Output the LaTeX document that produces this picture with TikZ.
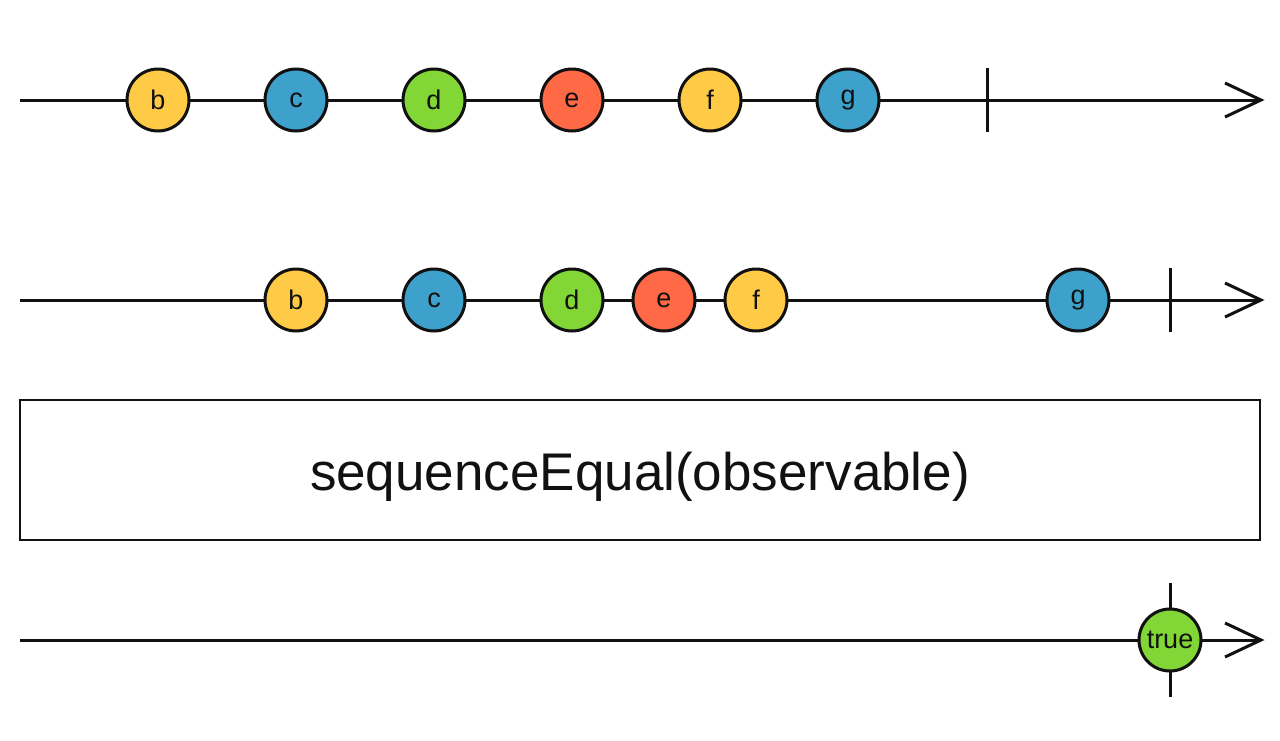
\documentclass[tikz,border=0pt]{standalone}
\usepackage{fontspec}
\setmainfont{Liberation Sans}
\definecolor{myyellow}{RGB}{255,203,70}
\definecolor{myblue}{RGB}{62,161,203}
\definecolor{mygreen}{RGB}{130,215,54}
\definecolor{myorange}{RGB}{255,105,70}
\definecolor{ink}{RGB}{17,17,17}
\begin{document}
\begin{tikzpicture}[x=1pt,y=-1pt,
  timeline/.style={draw=ink,line width=3pt},
  marble/.style={circle,draw=ink,line width=3pt,minimum size=62pt,inner sep=0pt,font=\fontsize{27}{27}\selectfont,text=ink},
  tickmark/.style={draw=ink,line width=3pt},
  opbox/.style={draw=ink,line width=2.5pt,minimum width=1240pt,minimum height=140pt,inner sep=0pt},
  optext/.style={font=\fontsize{53}{53}\selectfont,text=ink}]
\useasboundingbox (0,0) rectangle (1280,740);
% row 1
\coordinate (s1) at (20,100);
\coordinate (e1) at (1261,100);
\draw[timeline] (s1) -- (e1);
\draw[timeline,line join=miter] (e1) ++(-36,-17) -- (e1) -- ++(-36,17);
\coordinate (t1a) at (987,68);
\coordinate (t1b) at (987,132);
\draw[tickmark] (t1a) -- (t1b);
\node[marble,fill=myyellow] (a1) at (158,100) {b};
\node[marble,fill=myblue] (a2) at (296,100) {c};
\node[marble,fill=mygreen] (a3) at (434,100) {d};
\node[marble,fill=myorange] (a4) at (572,100) {e};
\node[marble,fill=myyellow] (a5) at (710,100) {f};
\node[marble,fill=myblue] (a6) at (848,100) {g};
% row 2
\coordinate (s2) at (20,300);
\coordinate (e2) at (1261,300);
\draw[timeline] (s2) -- (e2);
\draw[timeline,line join=miter] (e2) ++(-36,-17) -- (e2) -- ++(-36,17);
\coordinate (t2a) at (1170,268);
\coordinate (t2b) at (1170,332);
\draw[tickmark] (t2a) -- (t2b);
\node[marble,fill=myyellow] (b1) at (296,300) {b};
\node[marble,fill=myblue] (b2) at (434,300) {c};
\node[marble,fill=mygreen] (b3) at (572,300) {d};
\node[marble,fill=myorange] (b4) at (664,300) {e};
\node[marble,fill=myyellow] (b5) at (756,300) {f};
\node[marble,fill=myblue] (b6) at (1078,300) {g};
% operator box
\node[opbox] (op) at (640,470) {};
\node[optext,anchor=base] (optxt) at (640,490) {sequenceEqual(observable)};
% row 3
\coordinate (s3) at (20,640);
\coordinate (e3) at (1261,640);
\draw[timeline] (s3) -- (e3);
\draw[timeline,line join=miter] (e3) ++(-36,-17) -- (e3) -- ++(-36,17);
\coordinate (t3a) at (1170,583);
\coordinate (t3b) at (1170,697);
\draw[tickmark] (t3a) -- (t3b);
\node[marble,fill=mygreen] (c1) at (1170,640) {true};
\end{tikzpicture}
\end{document}
